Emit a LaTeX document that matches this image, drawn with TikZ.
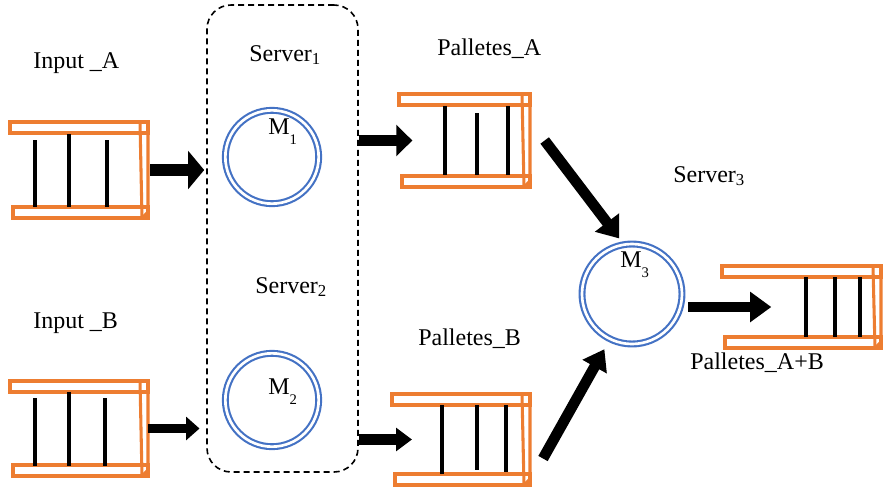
\documentclass[tikz,border=0pt]{standalone}
\usepackage{fontspec}
\setmainfont{Liberation Serif}
\newfontfamily\lblfont{Liberation Serif}
\usetikzlibrary{arrows.meta,fit}

\definecolor{qorange}{RGB}{237,125,49}
\definecolor{mblue}{RGB}{68,114,196}

\tikzset{
  bar/.style={draw=qorange, line width=2.3pt},
  slot/.style={line width=2.3pt},
  machine/.style={circle, draw=mblue, line width=1.6pt, double, double distance=2pt,
    minimum size=70pt, inner sep=0pt},
  group/.style={draw, dash pattern=on 4.5pt off 3pt, line width=1.2pt,
    rounded corners=18pt, inner sep=0pt},
  flow/.style={line width=8pt, -{Triangle[length=12pt,width=23pt]}},
  lbl/.style={font=\lblfont\fontsize{18}{22}\selectfont, inner sep=0pt, anchor=base west}
}

% queue: name, x, y, width, height
\newcommand{\queue}[5]{%
  \begin{scope}[shift={(#2,#3)}]
    \draw[bar] (0,0) rectangle (#4,11);
    \draw[bar] (3,#5-11) rectangle (#4,#5);
    \draw[bar] (#4,0) -- (#4,#5-6) -- (#4-6,#5);
    \draw[bar] (#4-8,0) -- (#4-6,#5);
    \coordinate (#1-in) at (0,#5/2);
    \coordinate (#1-out) at (#4,#5/2);
  \end{scope}}

% machine name with dropped index
\newcommand{\mname}[1]{M\raisebox{-8pt}{\fontsize{11}{11}\selectfont #1}}

\begin{document}
\begin{tikzpicture}[x=0.75pt,y=-0.75pt]
  \useasboundingbox (0,0) rectangle (883,490);

  % input queues
  \queue{qa}{10}{122}{138}{96}
  \foreach \x/\y in {35/140, 69/134, 107/140}
    \draw[slot] (\x,\y) -- (\x,207);
  \queue{qb}{10}{381}{138}{95}
  \foreach \x/\y in {35/398, 69/392, 105/398}
    \draw[slot] (\x,\y) -- (\x,466);

  % pallet queues
  \queue{qpa}{399}{94}{131}{93}
  \foreach \x/\y in {445/106, 477/113, 508/106}
    \draw[slot] (\x,\y) -- (\x,175);
  \queue{qpb}{392}{394}{138}{91}
  \foreach \x/\y in {442/474, 477/470, 506/472}
    \draw[slot] (\x,405) -- (\x,\y);
  \queue{qab}{722}{266}{159}{82}
  \foreach \x in {806, 835, 860}
    \draw[slot] (\x,277) -- (\x,337);

  % servers
  \node[group, fit={(207,5) (358,472)}] (srv) {};
  \node[machine] (m1) at (272,157) {};
  \node[machine] (m2) at (272,400) {};
  \node[machine, minimum size=75pt] (m3) at (632,294) {};
  \node[lbl] (m1txt) at (268,134) {\mname{1}};
  \node[lbl] (m2txt) at (268,394) {\mname{2}};
  \node[lbl] (m3txt) at (620,267) {\mname{3}};

  % labels
  \node[lbl] (ina) at (33,68) {Input \_A};
  \node[lbl] (inb) at (33,328) {Input \_B};
  \node[lbl] (s1) at (249,61) {Server\textsubscript{1}};
  \node[lbl] (s2) at (255,293) {Server\textsubscript{2}};
  \node[lbl] (s3) at (673,182) {Server\textsubscript{3}};
  \node[lbl] (pa) at (437,55) {Palletes\_A};
  \node[lbl] (pb) at (418,345) {Palletes\_B};
  \node[lbl] (pab) at (690,369) {Palletes\_A+B};

  % flow of parts
  \draw[flow, line width=9pt, -{Triangle[length=12pt,width=28pt]}, shorten <=1.5pt, shorten >=1.5pt]
    (qa-out) -- (qa-out -| srv.west);
  \draw[flow, line width=6.5pt, -{Triangle[length=10pt,width=17pt]}, shorten >=5pt]
    (qb-out) -- (qb-out -| srv.west);
  \draw[flow] (srv.east |- qpa-in) -- ([xshift=10pt]qpa-in);
  \draw[flow, -{Triangle[length=12pt,width=17pt]}] (srv.east |- qpb-in) -- ([xshift=15pt]qpb-in);
  \draw[flow, -{Triangle[length=15pt,width=22pt]}, shorten >=5pt]
    ([xshift=11pt]qpa-out) -- (m3.100);
  \draw[flow, -{Triangle[length=15pt,width=20pt]}, shorten >=8pt]
    ([shift={(13,19)}]qpb-out) -- (m3.244);
  \draw[flow, -{Triangle[length=16pt,width=22pt]}, shorten <=4pt]
    (m3.east |- qab-in) -- ([xshift=37pt]qab-in);
\end{tikzpicture}
\end{document}
